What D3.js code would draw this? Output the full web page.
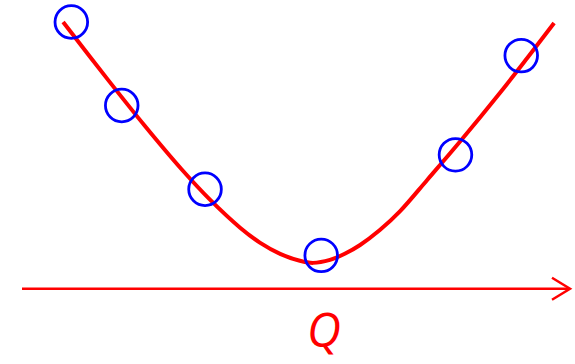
<!DOCTYPE html>
<html>
<head>
<meta charset="utf-8">
<script src="https://cdn.jsdelivr.net/npm/d3@7"></script>
<style>
  html, body { margin: 0; padding: 0; background: #fff; }
  svg { display: block; }
</style>
</head>
<body>
<svg id="chart" width="575" height="364"></svg>
<script>
// Fitted cost curve, sampled along Q
const curveQ = [0.75, 1.57, 2.24, 2.92, 3.43, 3.98, 4.34, 4.71, 5.07, 5.31, 5.62, 5.89, 6.17, 6.53, 6.90, 7.39, 7.99, 8.72, 9.22, 9.71];
const curveY = [10.0, 7.83, 6.11, 4.46, 3.34, 2.29, 1.73, 1.31, 1.05, 0.97, 1.08, 1.31, 1.64, 2.20, 2.91, 4.07, 5.51, 7.34, 8.65, 9.96];

// Observed points
const obsQ = [0.90, 1.82, 3.34, 5.46, 7.91, 9.11];
const obsY = [10.0, 6.87, 3.73, 1.25, 5.02, 8.74];

const axisLabel = "Q";

const svg = d3.select("#chart");
const x = d3.scaleLinear().domain([0, 10]).range([22, 570]);
const y = d3.scaleLinear().domain([0, 10]).range([288.75, 22]);

const red = "#ff0000", blue = "#0000ff";

// Horizontal axis with open arrowhead
const x0 = x(0), x1 = x(10), yA = y(0);
svg.append("line")
  .attr("x1", x0).attr("x2", x1 - 1)
  .attr("y1", yA).attr("y2", yA)
  .attr("stroke", red).attr("stroke-width", 2.5);
svg.append("path")
  .attr("d", `M${x1 - 18},${yA - 11}L${x1},${yA}L${x1 - 18},${yA + 11}`)
  .attr("fill", "none").attr("stroke", red).attr("stroke-width", 2.5)
  .attr("stroke-linejoin", "miter");

svg.append("text")
  .attr("x", 324).attr("y", 347)
  .attr("text-anchor", "middle")
  .attr("font-family", "'Open Sans', sans-serif")
  .attr("font-style", "italic")
  .attr("font-size", 47)
  .attr("fill", red)
  .text(axisLabel);

// Curve
const pts = curveQ.map((q, i) => [x(q), y(curveY[i])]);
svg.append("path")
  .attr("d", d3.line().curve(d3.curveCatmullRom.alpha(0.5))(pts))
  .attr("fill", "none").attr("stroke", red).attr("stroke-width", 4)
  .attr("stroke-linecap", "butt");

// Points
svg.selectAll("circle.obs")
  .data(obsQ.map((q, i) => ({ q, v: obsY[i] })))
  .join("circle")
  .attr("class", "obs")
  .attr("cx", d => x(d.q)).attr("cy", d => y(d.v))
  .attr("r", 16.3)
  .attr("fill", "none").attr("stroke", blue).attr("stroke-width", 2.8);
</script>
</body>
</html>
